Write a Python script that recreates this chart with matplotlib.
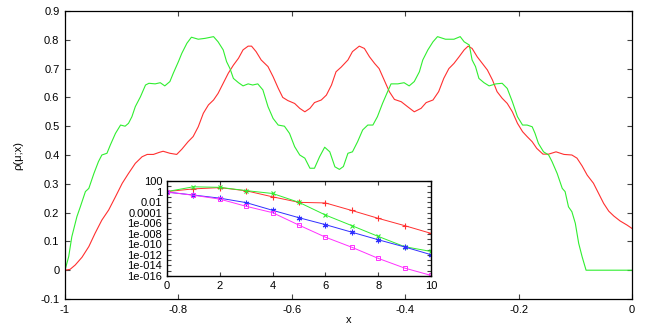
import numpy as np
import matplotlib
matplotlib.use("Agg")
import matplotlib.pyplot as plt
from matplotlib.ticker import FixedLocator, FixedFormatter, NullLocator

# ---------------- main curves ----------------
green_x = [-1.0, -0.9935, -0.988, -0.979, -0.973, -0.964, -0.958, -0.949, -0.941, -0.935,
           -0.926, -0.920, -0.911, -0.902, -0.894, -0.888, -0.882, -0.876, -0.867, -0.858,
           -0.852, -0.841, -0.832, -0.824, -0.815, -0.809, -0.800, -0.794, -0.785, -0.777,
           -0.765, -0.753, -0.738, -0.730, -0.721, -0.715, -0.709, -0.703, -0.694, -0.686,
           -0.677, -0.669, -0.660, -0.651, -0.642, -0.633, -0.624, -0.613, -0.604, -0.595,
           -0.586, -0.577, -0.568, -0.560, -0.551, -0.542, -0.533, -0.524, -0.516, -0.509,
           -0.501, -0.493, -0.484, -0.475, -0.466, -0.457, -0.449, -0.440, -0.431, -0.425,
           -0.413, -0.402, -0.393, -0.384, -0.375, -0.369, -0.360, -0.351, -0.343, -0.329,
           -0.314, -0.303, -0.296, -0.287, -0.282, -0.276, -0.270, -0.261, -0.252, -0.240,
           -0.229, -0.220, -0.211, -0.202, -0.193, -0.185, -0.176, -0.171, -0.165, -0.156,
           -0.147, -0.141, -0.132, -0.123, -0.118, -0.112, -0.106, -0.100, -0.094, -0.088,
           -0.081, 0.0]
green_y = [0.0, 0.047, 0.116, 0.186, 0.22, 0.273, 0.284, 0.336, 0.377, 0.40,
           0.406, 0.435, 0.475, 0.504, 0.50, 0.51, 0.533, 0.568, 0.602, 0.643,
           0.649, 0.647, 0.651, 0.64, 0.655, 0.684, 0.724, 0.753, 0.788, 0.809,
           0.802, 0.805, 0.811, 0.793, 0.765, 0.724, 0.70, 0.666, 0.651, 0.64,
           0.647, 0.643, 0.647, 0.626, 0.568, 0.527, 0.504, 0.50, 0.475, 0.429,
           0.40, 0.389, 0.354, 0.354, 0.394, 0.427, 0.411, 0.359, 0.35, 0.36,
           0.406, 0.411, 0.446, 0.487, 0.504, 0.504, 0.533, 0.579, 0.62, 0.647,
           0.647, 0.651, 0.64, 0.655, 0.689, 0.73, 0.765, 0.793, 0.811, 0.802,
           0.802, 0.811, 0.793, 0.782, 0.73, 0.707, 0.666, 0.651, 0.64, 0.647,
           0.649, 0.631, 0.585, 0.533, 0.504, 0.504, 0.498, 0.475, 0.44, 0.411,
           0.40, 0.377, 0.336, 0.284, 0.273, 0.22, 0.203, 0.163, 0.093, 0.047,
           0.0, 0.0]

red_x = [-1.0, -0.991, -0.982, -0.970, -0.958, -0.947, -0.935, -0.923, -0.911, -0.899,
         -0.888, -0.876, -0.864, -0.855, -0.844, -0.834, -0.827, -0.815, -0.803, -0.794,
         -0.783, -0.774, -0.765, -0.756, -0.747, -0.738, -0.730, -0.721, -0.712, -0.703,
         -0.694, -0.686, -0.677, -0.671, -0.663, -0.654, -0.642, -0.633, -0.624, -0.616,
         -0.607, -0.595, -0.586, -0.577, -0.568, -0.560, -0.548, -0.539, -0.530, -0.522,
         -0.513, -0.501, -0.493, -0.481, -0.472, -0.463, -0.454, -0.446, -0.437, -0.428,
         -0.419, -0.407, -0.396, -0.384, -0.372, -0.363, -0.351, -0.341, -0.332, -0.323,
         -0.314, -0.305, -0.296, -0.289, -0.282, -0.273, -0.264, -0.255, -0.246, -0.238,
         -0.229, -0.220, -0.211, -0.202, -0.193, -0.185, -0.176, -0.168, -0.157, -0.147,
         -0.134, -0.120, -0.106, -0.097, -0.088, -0.079, -0.068, -0.059, -0.050, -0.041,
         -0.032, -0.021, -0.009, 0.0]
red_y = [0.0, 0.003, 0.018, 0.045, 0.082, 0.128, 0.174, 0.209, 0.255, 0.302,
         0.336, 0.371, 0.394, 0.402, 0.402, 0.409, 0.413, 0.406, 0.402, 0.42,
         0.446, 0.464, 0.498, 0.545, 0.574, 0.591, 0.614, 0.649, 0.684, 0.712,
         0.736, 0.765, 0.778, 0.778, 0.759, 0.73, 0.707, 0.672, 0.632, 0.60,
         0.589, 0.579, 0.562, 0.55, 0.562, 0.582, 0.591, 0.608, 0.643, 0.689,
         0.705, 0.73, 0.759, 0.778, 0.77, 0.741, 0.718, 0.70, 0.66, 0.62,
         0.593, 0.585, 0.568, 0.55, 0.562, 0.582, 0.591, 0.62, 0.666, 0.70,
         0.718, 0.741, 0.765, 0.778, 0.77, 0.741, 0.718, 0.695, 0.66, 0.62,
         0.597, 0.579, 0.55, 0.51, 0.481, 0.464, 0.446, 0.423, 0.403, 0.403,
         0.411, 0.402, 0.40, 0.389, 0.362, 0.33, 0.302, 0.267, 0.232, 0.205,
         0.188, 0.171, 0.157, 0.145]

main_xticks = [-1.0, -0.8, -0.6, -0.4, -0.2, 0.0]
main_xlabels = ["-1", "-0.8", "-0.6", "-0.4", "-0.2", "0"]
main_yticks = [-0.1, 0.0, 0.1, 0.2, 0.3, 0.4, 0.5, 0.6, 0.7, 0.8, 0.9]
main_ylabels = ["-0.1", "0", "0.1", "0.2", "0.3", "0.4", "0.5", "0.6", "0.7", "0.8", "0.9"]

# ---------------- inset ----------------
inset_n = [0, 1, 2, 3, 4, 5, 6, 7, 8, 9, 10]
inset_red = [1.0, 3.2, 5.6, 1.4, 0.1, 9e-3, 7e-3, 2.6e-4, 8.5e-6, 3.5e-7, 1.2e-8]
inset_green = [1.0, 8.0, 6.3, 1.5, 0.43, 9e-3, 3.6e-5, 3.5e-7, 3.2e-9, 3.6e-11, 4.5e-12]
inset_blue = [0.8, 0.22, 5.6e-2, 8e-3, 2.8e-4, 1.1e-5, 5.4e-7, 2e-8, 7.4e-10, 3.2e-11, 1.1e-12]
inset_magenta = [0.8, 0.2, 3.7e-2, 1.6e-3, 1e-4, 4.3e-7, 2.3e-9, 2.8e-11, 2.2e-13, 3.2e-15, 1.3e-16]
inset_xticks = [0, 2, 4, 6, 8, 10]
inset_xlabels = ["0", "2", "4", "6", "8", "10"]
inset_yticks = [1e2, 1e1, 1e0, 1e-1, 1e-2, 1e-3, 1e-4, 1e-5, 1e-6, 1e-7, 1e-8, 1e-9,
                1e-10, 1e-11, 1e-12, 1e-13, 1e-14, 1e-15, 1e-16]
inset_ylabels = ["100", "", "1", "", "0.01", "", "0.0001", "", "1e-006", "", "1e-008", "",
                 "1e-010", "", "1e-012", "", "1e-014", "", "1e-016"]

plt.rcParams['font.family'] = ['Liberation Sans', 'DejaVu Sans']
FS = 8

fig = plt.figure(figsize=(6.54, 3.27), dpi=100)
W, H = 654.0, 327.0
ax = fig.add_axes([65 / W, 1 - 299 / H, (632 - 65) / W, (299 - 11) / H])

ax.plot(red_x, red_y, color='#ff3030', lw=0.8)
ax.plot(green_x, green_y, color='#30ee30', lw=0.8)
ax.set_xlim(-1, 0)
ax.set_ylim(-0.1, 0.9)
ax.xaxis.set_major_locator(FixedLocator(main_xticks))
ax.xaxis.set_major_formatter(FixedFormatter(main_xlabels))
ax.yaxis.set_major_locator(FixedLocator(main_yticks))
ax.yaxis.set_major_formatter(FixedFormatter(main_ylabels))
ax.tick_params(direction='in', length=3.5, width=0.8, top=True, right=True,
               labelsize=FS, pad=4, color='#444444')
for s in ax.spines.values():
    s.set_linewidth(0.9)
ax.set_xlabel('x', fontsize=FS, labelpad=0)
ax.set_ylabel('ρ(μ;x)', fontsize=FS, labelpad=12)

ins = fig.add_axes([167 / W, 1 - 276 / H, (431 - 167) / W, (276 - 181) / H])
ins.set_facecolor('white')
ins.set_yscale('log')
ms = 4
ins.plot(inset_n, inset_red, color='#ff3030', lw=0.7, marker='+', ms=ms, mew=0.8)
ins.plot(inset_n, inset_green, color='#30ee30', lw=0.7, marker='x', ms=ms - 0.5, mew=0.8)
ins.plot(inset_n, inset_blue, color='#3030ff', lw=0.7, marker=(6, 2, 0), ms=ms, mew=0.8)
ins.plot(inset_n, inset_magenta, color='#ff30ff', lw=0.7, marker='s', ms=ms - 0.5,
         mew=0.7, mfc='none')
ins.set_xlim(0, 10)
ins.set_ylim(1e-16, 1e2)
ins.xaxis.set_major_locator(FixedLocator(inset_xticks))
ins.xaxis.set_major_formatter(FixedFormatter(inset_xlabels))
ins.yaxis.set_major_locator(FixedLocator(inset_yticks))
ins.yaxis.set_major_formatter(FixedFormatter(inset_ylabels))
ins.yaxis.set_minor_locator(NullLocator())
ins.tick_params(direction='in', length=3, width=0.8, top=True, right=True,
                labelsize=FS, pad=3.5, color='#444444')
for s in ins.spines.values():
    s.set_linewidth(1.0)

fig.savefig('out.png', dpi=100)
